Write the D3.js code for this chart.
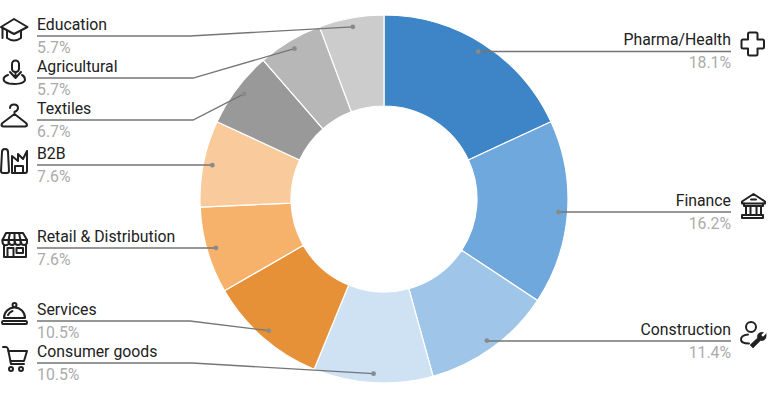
<!DOCTYPE html>
<html>
<head>
<meta charset="utf-8">
<script src="https://cdn.jsdelivr.net/npm/d3@7"></script>
<style>
  html, body { margin: 0; padding: 0; background: #fff; }
  svg { display: block; font-family: Roboto, sans-serif; }
</style>
</head>
<body>
<div id="chart"></div>
<script>
// chart data
var categories = ["Pharma/Health", "Finance", "Construction", "Consumer goods", "Services",
  "Retail & Distribution", "B2B", "Textiles", "Agricultural", "Education"];
var shares = [18.1, 16.2, 11.4, 10.5, 10.5, 7.6, 7.6, 6.7, 5.7, 5.7];
var sliceColors = ["#3d85c6", "#6fa8dc", "#9fc5e8", "#cfe2f3", "#e69138",
  "#f6b26b", "#f9cb9c", "#999999", "#b7b7b7", "#cccccc"];

// where each label row sits: height of the underline, and the elbow x (null = straight line)
var labelLineY = [51.5, 212, 341, 363, 321, 248, 165, 120, 78, 36];
var labelElbow = [null, null, null, 192, 190, null, null, 193, 193, 190];
var labelSide = ["right", "right", "right", "left", "left", "left", "left", "left", "left", "left"];

// icons, drawn in page pixels relative to the given origin
var iconOrigin = [[740, 30], [740, 192], [740, 321], [0, 345], [0, 301], [0, 231], [0, 147], [0, 103], [0, 59], [0, 17]];
var iconPaths = [
  // cross
  ["M9.5 2.5 h6.5 a1.5 1.5 0 0 1 1.5 1.5 v5.5 h5 a1.5 1.5 0 0 1 1.5 1.5 v6 a1.5 1.5 0 0 1 -1.5 1.5 h-5 v5.5 a1.5 1.5 0 0 1 -1.5 1.5 h-6.5 a1.5 1.5 0 0 1 -1.5 -1.5 v-5.5 h-5 a1.5 1.5 0 0 1 -1.5 -1.5 v-6 a1.5 1.5 0 0 1 1.5 -1.5 h5 v-5.5 a1.5 1.5 0 0 1 1.5 -1.5 z"],
  // bank
  ["M2 9.5 L13.5 2 L25 9.5 V11.5 H2 Z", "M11 7.5 H16", "M4 11.5 V14 H23 V11.5", "M6 14 V23 M10.5 14 V23 M16.5 14 V23 M21 14 V23", "M4 23 H23 V26 H2 V23 H4"],
  // person, the wrench is filled separately
  ["M6 6 a5 5 0 1 0 10 0 a5 5 0 1 0 -10 0", "M8 13.5 C3 14 1 16.5 1 18.5 C1 21 4 22.5 9 22.5"],
  // cart
  ["M3 2 H6 Q7.5 2 8 4 L11 19 H24", "M8.5 6 H27 L24 16 H10.5", "M9 24 a2 2 0 1 0 4 0 a2 2 0 1 0 -4 0", "M19 24 a2 2 0 1 0 4 0 a2 2 0 1 0 -4 0"],
  // cloche
  ["M4 17 A10.5 10.5 0 0 1 25 17 Z", "M12.5 4 a2 2 0 1 1 4 0 a2 2 0 1 1 -4 0", "M8 14 Q9.5 11 12.5 10", "M3 20 H26 Q27 20 27 21.5 Q27 23 26 23 H3 Q2 23 2 21.5 Q2 20 3 20 Z"],
  // shop
  ["M6 2 H23 L27 9 V11 a3 3 0 0 1 -6 0 a3 3 0 0 1 -6 0 a3 3 0 0 1 -6 0 a3 3 0 0 1 -6.5 0 V9 Z", "M2.5 9 H27 M10 2 L8.5 9 V11 M19 2 L20.5 9 V11 M14.5 2 V11", "M4 14 V26 H26 V14", "M7.5 26 V17 H13.5 V26", "M16.5 17 H23 V22 H16.5 Z"],
  // factory
  ["M2 5 Q2 2 5 2 Q8 2 8 5 L9 24 Q9 26 7 26 H3 Q1 26 1 24 Z", "M12 26 V9 L18 14 V7 L23 12 L27 4 V24 Q27 26 25 26 Z", "M15 26 V19 H23 V26"],
  // hanger
  ["M10 5 Q10 1.5 14 1.5 Q18 1.5 18 5 Q18 7.5 14.5 9 V11 L26 20 Q28.5 23 25 23.5 H3.5 Q0 23 2.5 20 L14.5 11"],
  // pin with arrow
  ["M12 5 a3.5 3.5 0 1 1 7 0 V10 a3.5 3 0 0 1 -7 0 Z", "M10 13 L15.5 19 L21 13 M15.5 13 V19", "M8 16 C2 18 2 23 9 24.5 C15 25.5 24 25 25 21 C25 19 24 17 22 16"],
  // cap
  ["M14 2 L27.5 10 L14 17 L1 10 Z", "M7 14 V21 Q14 26 21 21 V14", "M2.5 11 V21"]
];
var wrenchPath = "M26 13 L23 16 L21 14 L23.5 11.5 C20 10.5 16.5 13 17.5 17 L10 24 L13 27 L20.5 19.5 C24.5 20.5 27 17 26 13 Z";

var width = 768, height = 395;
var centerX = 384, centerY = 199;
var outerR = 184, innerR = 93, dotR = 175;

var svg = d3.select("#chart")
  .append("svg")
  .attr("width", width)
  .attr("height", height);

var pie = d3.pie().sort(null).value(function (d) { return d; });
var arcs = pie(shares);

var arc = d3.arc().innerRadius(innerR).outerRadius(outerR);
// zero-width arc, its centroid gives the leader dot position
var dotArc = d3.arc().innerRadius(dotR).outerRadius(dotR);

var donut = svg.append("g")
  .attr("transform", "translate(" + centerX + "," + centerY + ")");

donut.selectAll("path")
  .data(arcs)
  .enter()
  .append("path")
  .attr("d", arc)
  .attr("fill", function (d, i) { return sliceColors[i]; })
  .attr("stroke", "#fff")
  .attr("stroke-width", 1.2);

// leader lines and dots
var lineGen = d3.line();
arcs.forEach(function (d, i) {
  var c = dotArc.centroid(d);
  var dot = [c[0] + centerX, c[1] + centerY];
  var isRight = labelSide[i] == "right";
  var endX = isRight ? 731 : 37;
  var y = labelLineY[i];
  var pts;
  if (labelElbow[i] === null) {
    pts = [[dot[0], y], [endX, y]];
  } else {
    pts = [dot, [labelElbow[i], y], [endX, y]];
  }
  svg.append("path")
    .attr("d", lineGen(pts))
    .attr("fill", "none")
    .attr("stroke", "#757575")
    .attr("stroke-width", 1.3);
  svg.append("circle")
    .attr("cx", dot[0])
    .attr("cy", dot[1])
    .attr("r", 2.4)
    .attr("fill", "#8a8a8a");

  var anchor = isRight ? "end" : "start";
  svg.append("text")
    .attr("x", endX)
    .attr("y", y - 6.5)
    .attr("text-anchor", anchor)
    .attr("font-size", 15.8)
    .attr("fill", "#212121")
    .text(categories[i]);
  svg.append("text")
    .attr("x", endX)
    .attr("y", y + 16.5)
    .attr("text-anchor", anchor)
    .attr("font-size", 15.8)
    .attr("fill", "#ababab")
    .text(shares[i].toFixed(1) + "%");

  // icon
  var icon = svg.append("g")
    .attr("transform", "translate(" + iconOrigin[i][0] + "," + iconOrigin[i][1] + ")")
    .attr("fill", "none")
    .attr("stroke", "#212121")
    .attr("stroke-width", 2)
    .attr("stroke-linejoin", "round")
    .attr("stroke-linecap", "round");
  iconPaths[i].forEach(function (p) {
    icon.append("path").attr("d", p);
  });
  // construction icon also has a solid wrench
  if (categories[i] == "Construction") {
    icon.append("path")
      .attr("d", wrenchPath)
      .attr("fill", "#212121")
      .attr("stroke-width", 0.5);
  }
});
</script>
</body>
</html>
